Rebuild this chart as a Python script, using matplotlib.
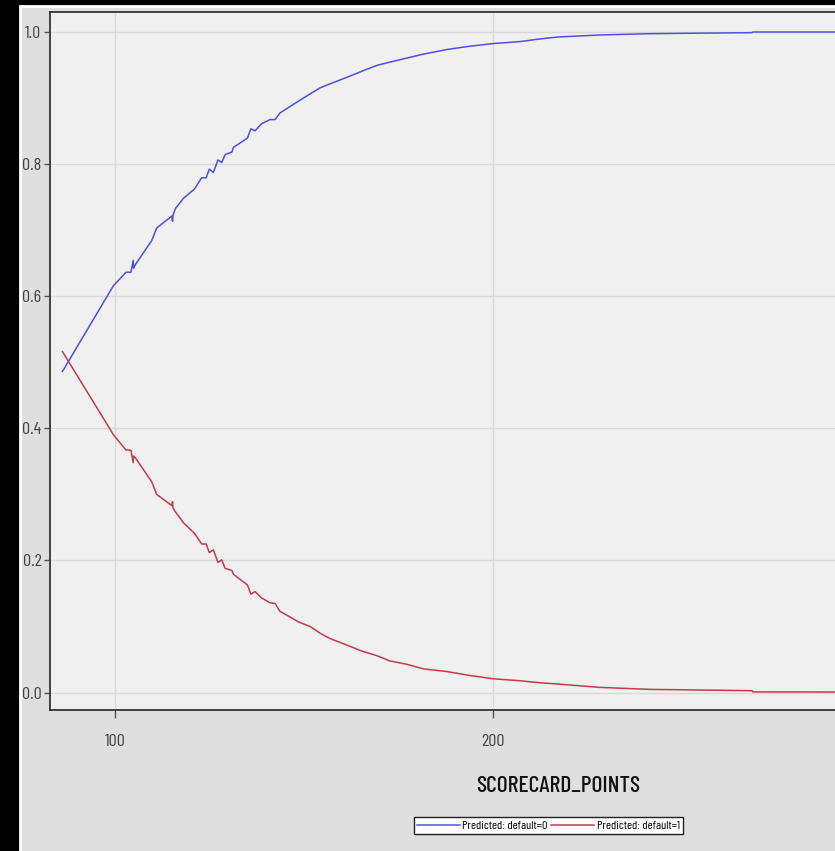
import matplotlib
matplotlib.use("Agg")
import matplotlib.pyplot as plt
from matplotlib.patches import Rectangle

# ---- data ----
scorecard_points = [86.1, 99.6, 102.9, 104.2, 104.8, 104.9, 105.3, 109.7, 111.0, 115.0,
                    115.2, 115.3, 115.9, 118.1, 121.0, 122.9, 124.1, 124.9, 126.0, 127.2,
                    128.2, 129.1, 130.9, 131.3, 135.0, 135.9, 137.0, 138.8, 141.0, 142.3,
                    143.6, 145.8, 148.5, 151.6, 154.2, 156.8, 161.3, 165.2, 169.2, 172.7,
                    177.1, 181.5, 187.7, 193.8, 200.0, 207.1, 212.3, 217.2, 228.2, 241.4,
                    268.4, 268.6, 290.2, 351.4]
pred_default0 = [0.486, 0.616, 0.636, 0.636, 0.654, 0.642, 0.647, 0.684, 0.703, 0.721,
                 0.713, 0.722, 0.732, 0.748, 0.762, 0.779, 0.779, 0.792, 0.787, 0.806,
                 0.802, 0.814, 0.818, 0.825, 0.839, 0.853, 0.850, 0.861, 0.867, 0.867,
                 0.877, 0.885, 0.895, 0.906, 0.915, 0.921, 0.931, 0.940, 0.949, 0.954,
                 0.960, 0.966, 0.973, 0.978, 0.982, 0.985, 0.989, 0.992, 0.995, 0.997,
                 0.9985, 0.9995, 0.9995, 0.9998]
pred_default1 = [0.516, 0.390, 0.367, 0.367, 0.348, 0.358, 0.356, 0.319, 0.300, 0.283,
                 0.289, 0.280, 0.274, 0.257, 0.241, 0.225, 0.225, 0.212, 0.216, 0.197,
                 0.201, 0.188, 0.185, 0.179, 0.163, 0.149, 0.153, 0.143, 0.136, 0.135,
                 0.123, 0.116, 0.107, 0.100, 0.090, 0.082, 0.072, 0.063, 0.056, 0.048,
                 0.043, 0.036, 0.032, 0.026, 0.021, 0.018, 0.015, 0.013, 0.008, 0.005,
                 0.003, 0.0012, 0.0010, 0.0005]
x_ticks = [100, 200]
y_ticks = [0.0, 0.2, 0.4, 0.6, 0.8, 1.0]
series_labels = ["Predicted: default=0", "Predicted: default=1"]
x_label = "SCORECARD_POINTS"

FONT = ['Barlow Condensed', 'DejaVu Sans']
W, H = 835, 851
fig = plt.figure(figsize=(W / 100, H / 100), dpi=100, facecolor='black')

# grey panel with white border
fig.patches.append(Rectangle((19.5 / W, -0.05), 1.2, 1 - 6 / H + 0.05, transform=fig.transFigure,
                             facecolor='#dfdfdf', edgecolor='white', linewidth=2, zorder=-5))

ax_left, ax_right = 50 / W, 1066 / W
ax_bottom, ax_top = 1 - 710 / H, 1 - 12.3 / H
ax = fig.add_axes([ax_left, ax_bottom, ax_right - ax_left, ax_top - ax_bottom])
ax.set_zorder(2)
ax.set_facecolor('#f0f0f0')

l0, = ax.plot(scorecard_points, pred_default0, color='#4f4fe0', lw=1.1, zorder=3)
l1, = ax.plot(scorecard_points, pred_default1, color='#c13c4d', lw=1.1, zorder=3)

ax.set_xlim(82.8, 351.4)
ax.set_ylim(-0.0262, 1.0293)
ax.set_xticks(x_ticks)
ax.set_yticks(y_ticks)
ax.set_yticklabels([f"{v:.1f}" for v in y_ticks])
ax.grid(True, color='#dadada', lw=1.0, zorder=0)
ax.set_axisbelow(True)
for s in ax.spines.values():
    s.set_color('#333333')
    s.set_linewidth(1.3)
ax.tick_params(axis='y', length=4, width=1, color='#555555', pad=2.2,
               labelsize=13, labelcolor='#444444')
ax.tick_params(axis='x', length=6, width=1, color='#555555', pad=11,
               labelsize=13, labelcolor='#444444')
for lab in ax.get_xticklabels() + ax.get_yticklabels():
    lab.set_family(FONT)

fig.text(558 / W, 1 - 786 / H, x_label, ha='center', va='center',
         fontsize=17, family=FONT, weight='medium', color='#111111', zorder=5)

leg = fig.legend([l0, l1], series_labels, loc='center', ncol=2,
                 bbox_to_anchor=(548.5 / W, 1 - 825.5 / H), frameon=True,
                 fancybox=False, edgecolor='#222222', facecolor='white', framealpha=1,
                 prop={'family': FONT, 'size': 8.8}, handlelength=3.5, handletextpad=0.2,
                 columnspacing=0.3, borderpad=0.25, borderaxespad=0)
leg.get_frame().set_linewidth(1.0)
leg.set_zorder(5)

fig.savefig("out.png", dpi=100, facecolor=fig.get_facecolor())
